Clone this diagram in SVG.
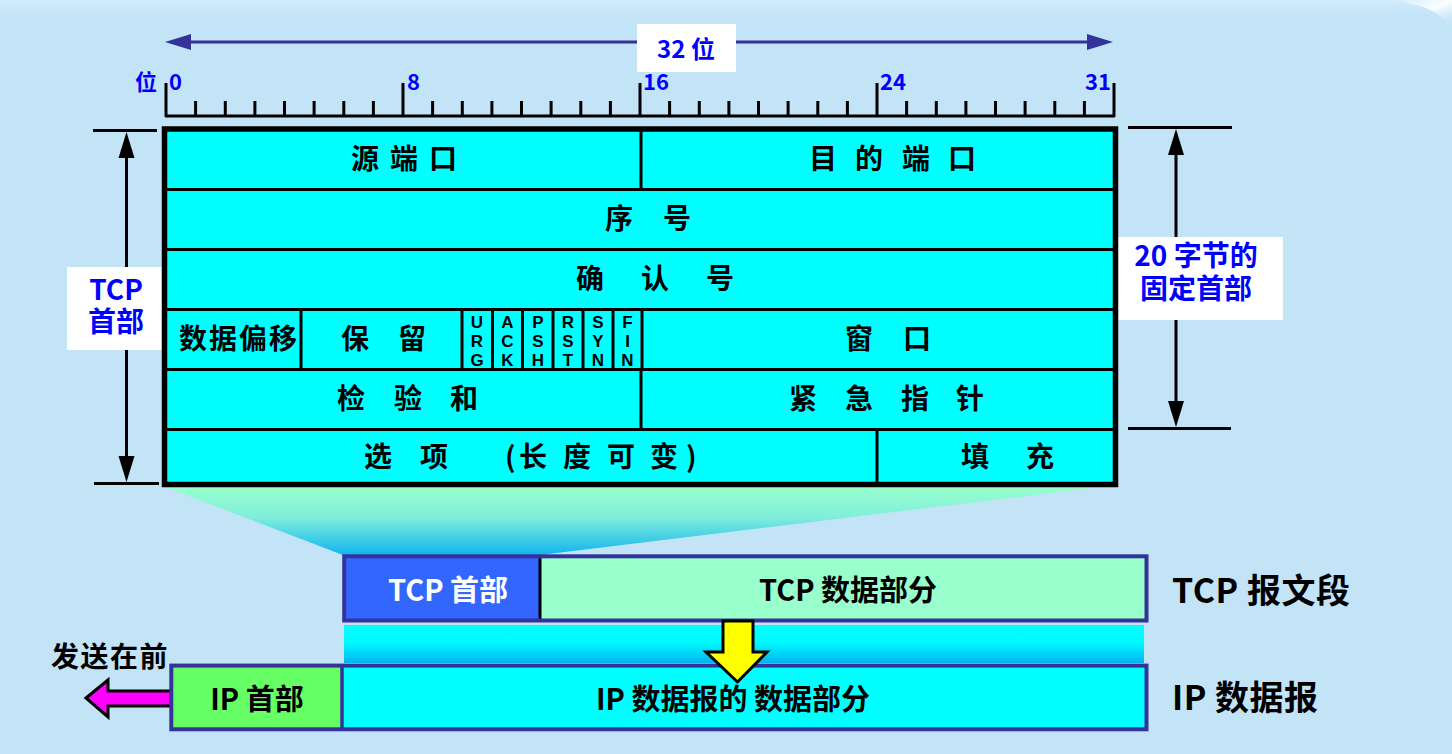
<svg xmlns="http://www.w3.org/2000/svg" width="1452" height="754" viewBox="0 0 1452 754">
<defs>
<linearGradient id="bgTop" x1="0" y1="0" x2="0" y2="1">
<stop offset="0" stop-color="#D0ECFC"/>
<stop offset="1" stop-color="#C3E3F7"/>
</linearGradient>
<linearGradient id="corner" x1="0" y1="0" x2="1" y2="1">
<stop offset="0" stop-color="#FFFFFF" stop-opacity="0"/>
<stop offset="0.5" stop-color="#FFFFFF" stop-opacity="0.9"/>
<stop offset="1" stop-color="#C3E3F7" stop-opacity="0"/>
</linearGradient>
<linearGradient id="funnel" x1="0" y1="0" x2="0" y2="1">
<stop offset="0" stop-color="#99FFCC"/>
<stop offset="0.45" stop-color="#80EEDC"/>
<stop offset="1" stop-color="#10B4EE"/>
</linearGradient>
<linearGradient id="strip" x1="0" y1="0" x2="0" y2="1">
<stop offset="0" stop-color="#00FFFF"/>
<stop offset="0.45" stop-color="#00FAFE"/>
<stop offset="1" stop-color="#00B4EE"/>
</linearGradient>
<style>
text{font-family:'Noto Sans CJK SC','Noto Sans',sans-serif;font-weight:bold}
.blue{fill:#0000FF}
.rl{font-size:22px}
.tt{font-size:28px;fill:#000}
.fl{font-family:'Liberation Sans','Noto Sans',sans-serif;font-size:17px;fill:#000;text-anchor:middle}
.lb{font-size:28px;text-anchor:middle}
.lb2{font-size:29px;text-anchor:middle}
.big{font-size:34px;fill:#000;letter-spacing:0.5px}
.blk{stroke:#000;stroke-width:3;fill:none}
.cell{stroke:#000;stroke-width:3}
.seg{stroke:#333399;stroke-width:4;fill:none}
</style>
</defs>

<g id="background">
<rect x="0" y="0" width="1452" height="754" fill="#C3E3F7"/>
<rect x="0" y="0" width="1452" height="18" fill="url(#bgTop)"/>
<path d="M1385,0 Q1440,4 1452,30 V0 Z" fill="url(#corner)"/>
</g>

<g id="ruler">
<path class="blk" d="M166,83 V116 H1114 V83 M403,83 V116 M640,83 V116 M877,83 V116" stroke-linejoin="round"/>
<path class="blk" d="M195.6,101V116M225.3,101V116M254.9,101V116M284.5,101V116M314.1,101V116M343.8,101V116M373.4,101V116M432.6,101V116M462.3,101V116M491.9,101V116M521.5,101V116M551.1,101V116M580.8,101V116M610.4,101V116M669.6,101V116M699.3,101V116M728.9,101V116M758.5,101V116M788.1,101V116M817.8,101V116M847.4,101V116M906.6,101V116M936.3,101V116M965.9,101V116M995.5,101V116M1025.1,101V116M1054.8,101V116M1084.4,101V116"/>
<text class="blue rl" x="157" y="90" text-anchor="end">位</text>
<text class="blue rl" x="169" y="90">0</text>
<text class="blue rl" x="407" y="90">8</text>
<text class="blue rl" x="643" y="90">16</text>
<text class="blue rl" x="880" y="90">24</text>
<text class="blue rl" x="1111" y="90" text-anchor="end">31</text>
</g>

<g id="funnel">
<polygon points="165,487 1100,487 540,555 343,555" fill="url(#funnel)"/>
</g>

<g id="connectors">
<line x1="190" y1="42" x2="1088" y2="42" stroke="#333399" stroke-width="3"/>
<polygon points="165,42 191,34 191,50" fill="#333399"/>
<polygon points="1113,42 1087,34 1087,50" fill="#333399"/>
<path class="blk" d="M93,130.5 H157 M94,483.5 H159 M126.5,150 V465"/>
<polygon points="126.5,132 118.5,158 134.5,158" fill="#000"/>
<polygon points="126.5,482 118.5,456 134.5,456" fill="#000"/>
<path class="blk" d="M1128,127.5 H1232 M1128,428.5 H1231 M1176,150 V410"/>
<polygon points="1176,129 1168,155 1184,155" fill="#000"/>
<polygon points="1176,427 1168,401 1184,401" fill="#000"/>
</g>

<g id="label-32bit">
<rect x="637" y="24" width="99" height="48" fill="#FFFFFF"/>
<text class="blue" x="686" y="58" font-size="24" text-anchor="middle">32 位</text>
</g>

<g id="label-tcp-header">
<rect x="67" y="267" width="95" height="83" fill="#FFFFFF"/>
<text class="blue lb" x="116" y="300">TCP</text>
<text class="blue lb" x="116" y="332">首部</text>
</g>

<g id="label-20bytes">
<rect x="1117" y="237" width="166" height="83" fill="#FFFFFF"/>
<text class="blue lb" x="1196" y="266">20 字节的</text>
<text class="blue lb" x="1196" y="299">固定首部</text>
</g>

<g id="tcp-header-table">
<rect x="164.5" y="129" width="951" height="355.5" fill="#00FFFF"/>
<path class="cell" fill="none" d="M164.5,189.5H1115.5M164.5,249.5H1115.5M164.5,309.5H1115.5M164.5,369.5H1115.5M164.5,429.5H1115.5M641,129V189.5M301,309.5V369.5M462,309.5V369.5M492.5,309.5V369.5M522.5,309.5V369.5M553,309.5V369.5M583,309.5V369.5M613,309.5V369.5M642,309.5V369.5M641,369.5V429.5M877,429.5V484.5"/>
<rect x="164.5" y="129" width="951" height="355.5" fill="none" stroke="#000" stroke-width="5.5"/>
<text class="tt" y="169" x="351 380 390 419 429">源 端 口</text>
<text class="tt" y="169" x="809 840 855 888 902 935 948">目 的 端 口</text>
<text class="tt" y="229" x="605 640 663">序 号</text>
<text class="tt" y="289" x="576 610 641 675 706">确 认 号</text>
<text class="tt" y="349" x="179 209 239 269">数据偏移</text>
<text class="tt" y="349" x="341 375 398">保 留</text>
<text class="fl" x="477" y="328">U<tspan x="477" dy="19">R</tspan><tspan x="477" dy="19">G</tspan></text>
<text class="fl" x="507.5" y="328">A<tspan x="507.5" dy="19">C</tspan><tspan x="507.5" dy="19">K</tspan></text>
<text class="fl" x="538" y="328">P<tspan x="538" dy="19">S</tspan><tspan x="538" dy="19">H</tspan></text>
<text class="fl" x="568" y="328">R<tspan x="568" dy="19">S</tspan><tspan x="568" dy="19">T</tspan></text>
<text class="fl" x="598" y="328">S<tspan x="598" dy="19">Y</tspan><tspan x="598" dy="19">N</tspan></text>
<text class="fl" x="627.5" y="328">F<tspan x="627.5" dy="19">I</tspan><tspan x="627.5" dy="19">N</tspan></text>
<text class="tt" y="349" x="845 880 903">窗 口</text>
<text class="tt" y="409" x="337 370 394 427 450">检 验 和</text>
<text class="tt" y="409" x="789 822 845 878 901 934 956">紧 急 指 针</text>
<text class="tt" y="467" x="364 398 420 460 505 519 553 563 597 607 641 650 686">选 项 (长 度 可 变)</text>
<text class="tt" y="467" x="961 995 1026">填 充</text>
</g>

<g id="tcp-segment">
<rect x="344" y="556" width="196" height="64.5" fill="#3366FF"/>
<rect x="540" y="556" width="606.5" height="64.5" fill="#99FFCC"/>
<line x1="540" y1="556" x2="540" y2="620.5" stroke="#000" stroke-width="3"/>
<rect class="seg" x="344.2" y="556.3" width="802.3" height="64.2"/>
<text class="lb2" x="448" y="601" fill="#FFFFFF">TCP 首部</text>
<text class="lb2" x="848" y="601" fill="#000">TCP 数据部分</text>
</g>

<g id="label-tcp-segment">
<text class="big" x="1172" y="603">TCP 报文段</text>
</g>

<g id="strip">
<rect x="344" y="625" width="800" height="38" fill="url(#strip)"/>
</g>

<g id="send-first-arrow">
<polygon points="86,698 108,680 108,691 172,691 172,706 108,706 108,717" fill="#FF00FF" stroke="#000" stroke-width="3" stroke-linejoin="miter"/>
<text class="tt" x="51" y="667" letter-spacing="1.5">发送在前</text>
</g>

<g id="ip-datagram">
<rect x="171.3" y="665.6" width="170.7" height="63.7" fill="#66FF66"/>
<rect x="342" y="665.6" width="804.5" height="63.7" fill="#00FFFF"/>
<line x1="342" y1="665.6" x2="342" y2="729.3" stroke="#333399" stroke-width="3.5"/>
<rect class="seg" x="171.3" y="665.6" width="975.2" height="63.7"/>
<text class="lb2" x="257" y="710" fill="#000">IP 首部</text>
<text class="lb2" x="733" y="710" fill="#000">IP 数据报的 数据部分</text>
</g>

<g id="label-ip-datagram">
<text class="big" x="1172" y="710">IP 数据报</text>
</g>

<g id="down-arrow">
<polygon points="723,621 753,621 753,652 767,652 737.5,682 706,652 723,652" fill="#FFFF00" stroke="#000" stroke-width="3" stroke-linejoin="miter"/>
</g>
</svg>
